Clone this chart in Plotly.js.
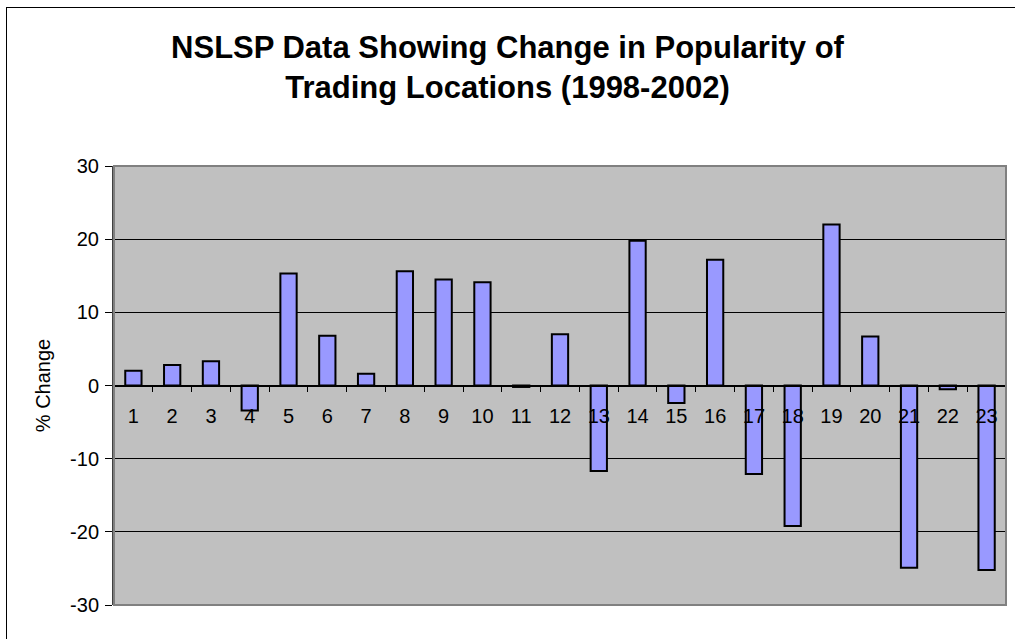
<!DOCTYPE html>
<html>
<head>
<meta charset="utf-8">
<script src="https://cdn.plot.ly/plotly-3.0.1.min.js"></script>
<style>
html,body{margin:0;padding:0;background:#fff;overflow:hidden;}
#wrap{position:relative;width:1015px;height:639px;overflow:hidden;}
#chart{position:absolute;left:0;top:0;width:1015px;height:639px;}
#fl{position:absolute;left:6px;top:7px;width:1px;height:700px;background:#000;pointer-events:none;z-index:10;}
#ft{position:absolute;left:6px;top:7px;width:1100px;height:1px;background:#000;pointer-events:none;z-index:10;}
</style>
</head>
<body>
<div id="wrap">
<div id="chart"></div>
<div id="fl"></div>
<div id="ft"></div>
</div>
<script>
var categories = ["1","2","3","4","5","6","7","8","9","10","11","12","13","14","15","16","17","18","19","20","21","22","23"];
var pctChange = [2.0, 2.8, 3.3, -3.4, 15.3, 6.8, 1.6, 15.6, 14.5, 14.1, -0.2, 7.0, -11.7, 19.8, -2.4, 17.2, -12.1, -19.2, 22.0, 6.7, -24.9, -0.5, -25.2];
var yTicks = [-30, -20, -10, 0, 10, 20, 30];
var titleText = "NSLSP Data Showing Change in Popularity of<br>Trading Locations (1998-2002)";
var yTitle = "% Change";

var font = "Liberation Sans, Arial, sans-serif";

var trace = {
  type: "bar",
  x: categories,
  y: pctChange,
  marker: {color: "#9999FF", line: {color: "#000000", width: 2}},
  hoverinfo: "x+y"
};

var L = 114, R = 1006, T = 166, B = 605;

var layout = {
  width: 1015, height: 639,
  margin: {l: L, r: 1015 - R, t: T, b: 639 - B, pad: 0},
  paper_bgcolor: "#FFFFFF",
  plot_bgcolor: "#C0C0C0",
  showlegend: false,
  bargap: 0.58,
  font: {family: font, color: "#000000"},
  title: {
    text: titleText,
    font: {family: font, size: 31, color: "#000000", weight: "bold"},
    x: 0.5, xref: "container", xanchor: "center",
    y: 1 - 58/639, yref: "container", yanchor: "top"
  },
  xaxis: {
    type: "category",
    anchor: "free",
    position: 0.5,
    showline: true, linecolor: "#000000", linewidth: 1.5,
    ticks: "outside", tickson: "boundaries", ticklen: 6, tickwidth: 1, tickcolor: "#000000",
    ticklabelstandoff: 13,
    tickfont: {family: font, size: 20, color: "#000000"},
    showgrid: false, zeroline: false,
    fixedrange: true
  },
  yaxis: {
    range: [-30, 30],
    tickvals: yTicks,
    ticktext: yTicks.map(String),
    showline: true, linecolor: "#404040", linewidth: 2,
    ticks: "outside", ticklen: 7, tickwidth: 1, tickcolor: "#000000",
    ticklabelstandoff: 2,
    tickfont: {family: font, size: 20, color: "#000000"},
    showgrid: true, gridcolor: "#000000", gridwidth: 1,
    zeroline: false,
    title: {text: yTitle, font: {family: font, size: 20, color: "#000000"}, standoff: 14},
    automargin: false,
    fixedrange: true
  },
  shapes: [
    {type: "rect", xref: "paper", yref: "paper", x0: 0, x1: 1, y0: 0, y1: 1,
     line: {color: "#808080", width: 2}, fillcolor: "rgba(0,0,0,0)", layer: "above"}
  ]
};

Plotly.newPlot("chart", [trace], layout, {displayModeBar: false});
</script>
</body>
</html>
